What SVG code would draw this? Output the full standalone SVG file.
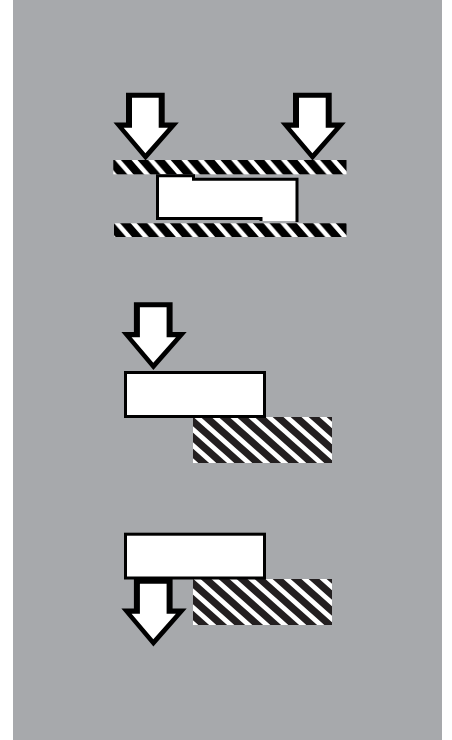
<svg xmlns="http://www.w3.org/2000/svg" width="452" height="740" viewBox="0 0 452 740">
<style>
.box{fill:#fff;stroke:#000;stroke-width:3}
.ln{fill:none;stroke:#000;stroke-width:3}
.st{fill:none;stroke:#231f20;stroke-width:7.2}
.sb{fill:none;stroke:#000;stroke-width:8}
</style>
<defs>
<pattern id="h1" width="18" height="16" patternUnits="userSpaceOnUse" patternTransform="translate(188 417)">
<rect width="18" height="16" fill="#fff"/>
<path class="st" d="M-18,-16L36,32M0,-16L36,16M-36,-16L18,32"/>
</pattern>
<pattern id="h2" href="#h1" patternTransform="translate(188 579)"/>
<pattern id="b1" width="16.600" height="19" patternUnits="userSpaceOnUse" patternTransform="translate(109.600 160)">
<rect width="16.600" height="19" fill="#fff"/>
<path class="sb" d="M-16.600,-19L33.200,38M0,-19L33.200,19M-33.200,-19L16.600,38"/>
</pattern>
<pattern id="b2" href="#b1" patternTransform="translate(108.600 223)"/>
<g id="arr">
<path d="M126,92.800H164.700V122.500H178.800L145.500,160.500L113.500,122.500H126Z" fill="#000"/>
<path d="M132,97.800H158.700V127.700H168L145.400,153.300L123.700,127.700H132Z" fill="#fff"/>
</g>
</defs>
<rect x="13" y="0" width="429" height="740" fill="#a7a9ac"/>
<g id="top-arrow-left"><use href="#arr"/></g>
<g id="top-arrow-right"><use href="#arr" x="167"/></g>
<g id="top-plate"><rect x="113.300" y="160" width="233.200" height="14.300" fill="url(#b1)"/></g>
<g id="top-plate-lower"><rect x="114" y="223.300" width="232.500" height="13.700" fill="url(#b2)"/></g>
<g id="top-part">
<path fill="#fff" d="M157.500,175.800H193.500V179.300H297V221H261V218.500H157.500Z"/>
<path class="ln" d="M261,221V218.500H157.500V175.800H193.500V179.300H297V222"/>
</g>
<g id="mid-arrow"><use href="#arr" x="7.900" y="209.500"/></g>
<g id="mid-hatch"><rect x="193" y="417" width="139" height="46" fill="url(#h1)"/></g>
<g id="mid-part"><rect class="box" x="125.500" y="372.500" width="139" height="44"/></g>
<g id="bottom-arrow"><use href="#arr" x="7.900" y="486"/></g>
<g id="bottom-hatch"><rect x="193" y="579" width="139" height="46" fill="url(#h2)"/></g>
<g id="bottom-part"><rect class="box" x="125.500" y="534.200" width="139" height="43.800"/></g>
</svg>
